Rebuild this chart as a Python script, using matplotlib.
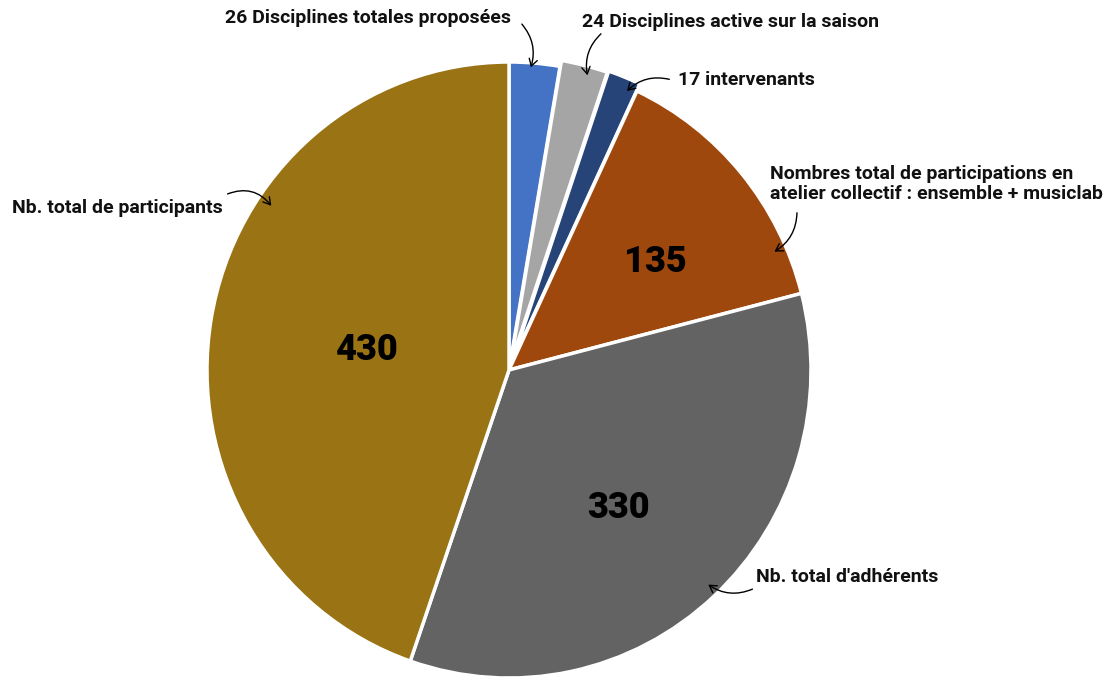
import matplotlib
matplotlib.use("Agg")
import matplotlib.pyplot as plt
from matplotlib.patches import FancyArrowPatch

categories = [
    "26 Disciplines totales proposées",
    "24 Disciplines active sur la saison",
    "17 intervenants",
    "Nombres total de participations en\natelier collectif : ensemble + musiclab",
    "Nb. total d'adhérents",
    "Nb. total de participants",
]
values = [26, 24, 17, 135, 330, 430]
value_labels = ["", "", "", "135", "330", "430"]
colors = ["#4472C4", "#A5A5A5", "#264478", "#9E480E", "#636363", "#997314"]
explode = [0.0, 0.02, 0.025, 0.0, 0.0, 0.0]

W, H = 1110, 680
fig = plt.figure(figsize=(W / 100, H / 100), dpi=100)
cx, cy, RX, RY = 509, 370, 302, 308
ax = fig.add_axes([(cx - RX) / W, 1 - (cy + RY) / H, 2 * RX / W, 2 * RY / H])
ax.axis("off")

wedges, _ = ax.pie(values, colors=colors, startangle=90, counterclock=False,
                   explode=explode, radius=1.0, center=(0, 0),
                   wedgeprops=dict(edgecolor="white", linewidth=2.5))
ax.set_aspect("auto")
ax.set_xlim(-1.0, 1.0)
ax.set_ylim(-1.0, 1.0)

font = "Roboto"

def fp(x, y):
    return (x / W, 1 - y / H)

# value labels (pixel layout positions)
val_pos = {3: (655, 262), 4: (618, 508), 5: (367, 350)}
for i, (px, py) in val_pos.items():
    fig.text(*fp(px, py), value_labels[i], ha="center", va="center",
             fontsize=26, fontweight=900, family=font, color="black")

# category annotations: text position, alignment, arrow start, arrow tip, curvature
ann = [
    (0, (368, 18), "center", (520, 22), (530, 70), -0.3),
    (1, (582, 22), "left", (603, 32), (588, 78), 0.3),
    (2, (678, 80), "left", (672, 80), (625, 93), 0.3),
    (3, (770, 184), "left", (797, 210), (772, 253), -0.3),
    (5, (12, 208), "left", (225, 195), (273, 208), -0.4),
    (4, (756, 577), "left", (755, 588), (706, 583), -0.3),
]
for i, tpos, ha, a0, a1, rad in ann:
    fig.text(*fp(*tpos), categories[i], ha=ha, va="center", fontsize=14,
             fontweight="bold", family=font, color="#111111", linespacing=1.2)
    fig.add_artist(FancyArrowPatch(
        fp(*a0), fp(*a1), transform=fig.transFigure,
        connectionstyle=f"arc3,rad={rad}", arrowstyle="->,head_length=5,head_width=3",
        color="black", lw=1.0))

fig.savefig("out.png", dpi=100, facecolor="white")
